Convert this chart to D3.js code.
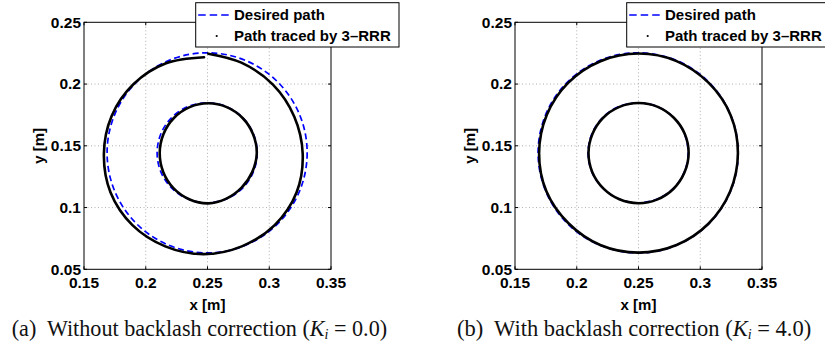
<!DOCTYPE html>
<html>
<head>
<meta charset="utf-8">
<script src="https://cdn.jsdelivr.net/npm/d3@7"></script>
<style>
  body { margin: 0; background: #fff; }
  svg { display: block; }
</style>
</head>
<body>
<div id="chart"></div>
<script>
// axis ticks (same for both panels)
const xTicks = [0.15, 0.2, 0.25, 0.3, 0.35]
const yTicks = [0.05, 0.1, 0.15, 0.2, 0.25]

// desired path: two concentric circles
const desiredCenter = [0.2497, 0.1443]
const desiredRadii = [0.081, 0.0405]

// traced path, (a) without backlash correction
// outer trace starts at the top and does not close (gap at the top)
const tracedOuterA = [
  [0.2506, 0.2246], [0.2774, 0.2173], [0.3030, 0.1996], [0.3202, 0.1738],
  [0.3271, 0.1434], [0.3221, 0.1122], [0.3044, 0.0858], [0.2778, 0.0686],
  [0.2468, 0.0623], [0.2158, 0.0686], [0.1892, 0.0858], [0.1715, 0.1122],
  [0.1661, 0.1434], [0.1724, 0.1742], [0.1902, 0.2000], [0.2164, 0.2168],
  [0.2472, 0.2217]
]
const tracedInnerA = [
  [0.2506, 0.1844], [0.2656, 0.1813], [0.2784, 0.1725], [0.2869, 0.1594],
  [0.2899, 0.1439], [0.2862, 0.1287], [0.2776, 0.1161], [0.2653, 0.1072],
  [0.2506, 0.1034], [0.2356, 0.1065], [0.2228, 0.1153], [0.2143, 0.1284],
  [0.2113, 0.1439], [0.2143, 0.1594], [0.2228, 0.1725], [0.2356, 0.1813]
]

// traced path, (b) with backlash correction
const tracedOuterB = [
  [0.2500, 0.2247], [0.2808, 0.2186], [0.3069, 0.2009], [0.3246, 0.1748],
  [0.3305, 0.1442], [0.3242, 0.1130], [0.3066, 0.0869], [0.2808, 0.0697],
  [0.2500, 0.0635], [0.2190, 0.0697], [0.1933, 0.0873], [0.1754, 0.1132],
  [0.1695, 0.1440], [0.1757, 0.1750], [0.1930, 0.2010], [0.2192, 0.2185]
]
const tracedInnerB = [
  [0.2500, 0.1846], [0.2656, 0.1815], [0.2786, 0.1727], [0.2875, 0.1596],
  [0.2906, 0.1440], [0.2872, 0.1283], [0.2784, 0.1152], [0.2654, 0.1066],
  [0.2500, 0.1035], [0.2345, 0.1067], [0.2215, 0.1155], [0.2126, 0.1286],
  [0.2095, 0.1441], [0.2127, 0.1596], [0.2214, 0.1727], [0.2346, 0.1815]
]

const legendLabels = ['Desired path', 'Path traced by 3\u2013RRR']
const captionPrefixes = ['(a)  Without backlash correction (', '(b)  With backlash correction (']
const captionValues = ['0.0', '4.0']

const W = 825
const H = 348
const panels = [
  { left: 84, outer: tracedOuterA, inner: tracedInnerA, closed: false, capX: 11.7, capW: 376 },
  { left: 515, outer: tracedOuterB, inner: tracedInnerB, closed: true, capX: 457, capW: 355 }
]
const plotTop = 22.3
const plotSize = 247

const svg = d3.select('#chart').append('svg')
  .attr('width', W)
  .attr('height', H)

svg.append('rect').attr('width', W).attr('height', H).attr('fill', '#fff')

const sans = '"Liberation Sans", Arial, Helvetica, sans-serif'
const serif = '"Liberation Serif", "Times New Roman", serif'

panels.forEach((p, i) => {
  const x = d3.scaleLinear().domain([0.15, 0.35]).range([p.left, p.left + plotSize])
  const y = d3.scaleLinear().domain([0.05, 0.25]).range([plotTop + plotSize, plotTop])
  const g = svg.append('g')

  // dotted grid
  g.selectAll('line.gx')
    .data(xTicks.slice(1, -1))
    .join('line')
    .attr('x1', (d) => x(d)).attr('x2', (d) => x(d))
    .attr('y1', y(0.05)).attr('y2', y(0.25))
    .attr('stroke', '#9a9a9a')
    .attr('stroke-width', 0.8)
    .attr('stroke-dasharray', '1,2.5')
  g.selectAll('line.gy')
    .data(yTicks.slice(1, -1))
    .join('line')
    .attr('y1', (d) => y(d)).attr('y2', (d) => y(d))
    .attr('x1', x(0.15)).attr('x2', x(0.35))
    .attr('stroke', '#9a9a9a')
    .attr('stroke-width', 0.8)
    .attr('stroke-dasharray', '1,2.5')

  // desired path
  g.selectAll('ellipse.desired')
    .data(desiredRadii)
    .join('ellipse')
    .attr('cx', x(desiredCenter[0]))
    .attr('cy', y(desiredCenter[1]))
    .attr('rx', (r) => x(desiredCenter[0] + r) - x(desiredCenter[0]))
    .attr('ry', (r) => y(desiredCenter[1]) - y(desiredCenter[1] + r))
    .attr('fill', 'none')
    .attr('stroke', '#0000ff')
    .attr('stroke-width', 1.7)
    .attr('stroke-dasharray', '6,3.5')

  // traced path
  const openLine = d3.line().x((d) => x(d[0])).y((d) => y(d[1])).curve(d3.curveCatmullRom)
  const closedLine = d3.line().x((d) => x(d[0])).y((d) => y(d[1])).curve(d3.curveCatmullRomClosed)
  g.append('path')
    .attr('d', p.closed ? closedLine(p.outer) : openLine(p.outer))
    .attr('fill', 'none')
    .attr('stroke', '#000')
    .attr('stroke-width', 2.6)
    .attr('stroke-linecap', 'round')
  g.append('path')
    .attr('d', closedLine(p.inner))
    .attr('fill', 'none')
    .attr('stroke', '#000')
    .attr('stroke-width', 2.6)

  // axes box
  g.append('rect')
    .attr('x', x(0.15)).attr('y', y(0.25))
    .attr('width', x(0.35) - x(0.15))
    .attr('height', y(0.05) - y(0.25))
    .attr('fill', 'none')
    .attr('stroke', '#000')
    .attr('stroke-width', 1)

  // inward ticks on all four sides
  const tk = 3
  xTicks.forEach((d) => {
    g.append('line').attr('x1', x(d)).attr('x2', x(d)).attr('y1', y(0.05)).attr('y2', y(0.05) - tk).attr('stroke', '#000')
    g.append('line').attr('x1', x(d)).attr('x2', x(d)).attr('y1', y(0.25)).attr('y2', y(0.25) + tk).attr('stroke', '#000')
  })
  yTicks.forEach((d) => {
    g.append('line').attr('y1', y(d)).attr('y2', y(d)).attr('x1', x(0.15)).attr('x2', x(0.15) + tk).attr('stroke', '#000')
    g.append('line').attr('y1', y(d)).attr('y2', y(d)).attr('x1', x(0.35)).attr('x2', x(0.35) - tk).attr('stroke', '#000')
  })

  // tick labels
  g.selectAll('text.xt')
    .data(xTicks)
    .join('text')
    .attr('x', (d) => x(d))
    .attr('y', y(0.05) + 18.5)
    .attr('text-anchor', 'middle')
    .attr('font-family', sans)
    .attr('font-weight', 'bold')
    .attr('font-size', 15.5)
    .text((d) => String(d))
  g.selectAll('text.yt')
    .data(yTicks)
    .join('text')
    .attr('x', x(0.15) - 3)
    .attr('y', (d) => y(d) + 5.3)
    .attr('text-anchor', 'end')
    .attr('font-family', sans)
    .attr('font-weight', 'bold')
    .attr('font-size', 15.5)
    .text((d) => String(d))

  // axis titles
  g.append('text')
    .attr('x', x(0.25))
    .attr('y', 310)
    .attr('text-anchor', 'middle')
    .attr('font-family', sans)
    .attr('font-weight', 'bold')
    .attr('font-size', 15)
    .text('x [m]')
  g.append('text')
    .attr('transform', `translate(${p.left - 40},${y(0.15)}) rotate(-90)`)
    .attr('text-anchor', 'middle')
    .attr('font-family', sans)
    .attr('font-weight', 'bold')
    .attr('font-size', 15)
    .text('y [m]')

  // legend (runs past the canvas on the right panel, as in the figure)
  const lx = p.left + 111.7
  const leg = g.append('g')
  leg.append('rect')
    .attr('x', lx).attr('y', 2.7)
    .attr('width', 203.3).attr('height', 44.3)
    .attr('fill', '#fff')
    .attr('stroke', '#000')
    .attr('stroke-width', 1)
  leg.append('line')
    .attr('x1', lx + 2.5).attr('x2', lx + 36)
    .attr('y1', 15).attr('y2', 15)
    .attr('stroke', '#0000ff')
    .attr('stroke-width', 1.7)
    .attr('stroke-dasharray', '7.5,4')
  leg.append('circle')
    .attr('cx', lx + 21).attr('cy', 36)
    .attr('r', 1.1)
    .attr('fill', '#000')
  leg.selectAll('text')
    .data(legendLabels)
    .join('text')
    .attr('x', lx + 38.3)
    .attr('y', (d, j) => (j === 0 ? 19.5 : 41))
    .attr('font-family', sans)
    .attr('font-weight', 'bold')
    .attr('font-size', 15)
    .text((d) => d)

  // caption
  const cap = svg.append('text')
    .attr('x', p.capX)
    .attr('y', 336)
    .attr('font-family', serif)
    .attr('font-size', 20)
    .attr('fill', '#111')
    .attr('xml:space', 'preserve')
    .style('white-space', 'pre')
  cap.append('tspan').text(captionPrefixes[i])
  cap.append('tspan').attr('font-style', 'italic').text('K')
  cap.append('tspan').attr('font-style', 'italic').attr('font-size', 14).attr('dy', 3).text('i')
  cap.append('tspan').attr('dy', -3).text(' = ' + captionValues[i] + ')')
  const len = cap.node().getComputedTextLength()
  if (len > 0) cap.attr('font-size', 20 * p.capW / len)
})
</script>
</body>
</html>
